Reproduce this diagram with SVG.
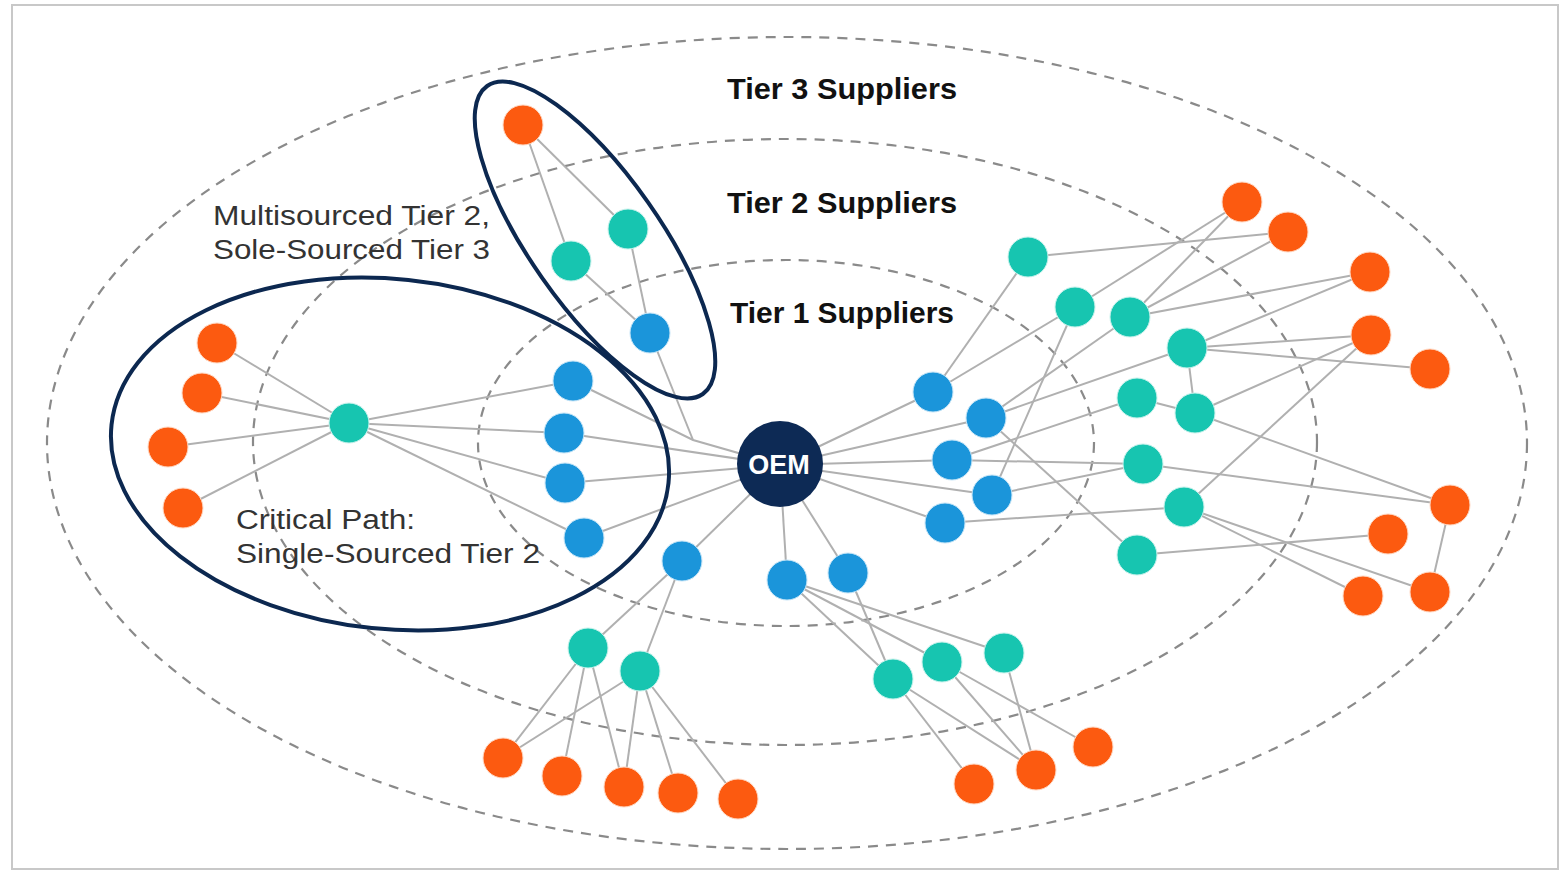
<svg xmlns="http://www.w3.org/2000/svg" width="1562" height="872" viewBox="0 0 1562 872">
<style>
.ring{fill:none;stroke:#8a8a8a;stroke-width:2.2;stroke-dasharray:10 8}
.hl{fill:none;stroke:#0c2850;stroke-width:4}
.e{stroke:#b0b0b0;stroke-width:2;fill:none}
.o{fill:#fc5a10;stroke:#ffd9c4;stroke-width:1}
.t{fill:#17c5b0;stroke:#c8f2ec;stroke-width:1}
.b{fill:#1b95da;stroke:#c6e5f7;stroke-width:1}
.tier{font-family:"Liberation Sans",Arial,sans-serif;font-weight:bold;font-size:30px;fill:#111}
.note{font-family:"Liberation Sans",Arial,sans-serif;font-size:27px;fill:#333}
</style>
<rect x="0" y="0" width="1562" height="872" fill="#ffffff"/>
<rect x="12" y="5" width="1546" height="864" fill="#ffffff" stroke="#c8c8c8" stroke-width="2"/>

<g id="rings">
<ellipse class="ring" cx="787" cy="443" rx="740" ry="406"/>
<ellipse class="ring" cx="785" cy="442" rx="532" ry="303"/>
<ellipse class="ring" cx="786" cy="443" rx="308" ry="183"/>
</g>

<g id="connectors">
<!-- OEM to tier 1 -->
<polyline class="e" points="573,381 693,440 780,465"/>
<line class="e" x1="650" y1="333" x2="693" y2="440"/>
<line class="e" x1="564" y1="433" x2="780" y2="465"/>
<line class="e" x1="565" y1="483" x2="780" y2="465"/>
<line class="e" x1="584" y1="538" x2="780" y2="465"/>
<line class="e" x1="682" y1="561" x2="780" y2="465"/>
<line class="e" x1="787" y1="580" x2="780" y2="465"/>
<line class="e" x1="848" y1="573" x2="780" y2="465"/>
<line class="e" x1="933" y1="392" x2="780" y2="465"/>
<line class="e" x1="986" y1="418" x2="780" y2="465"/>
<line class="e" x1="952" y1="460" x2="780" y2="465"/>
<line class="e" x1="992" y1="495" x2="780" y2="465"/>
<line class="e" x1="945" y1="523" x2="780" y2="465"/>
<!-- left critical path -->
<line class="e" x1="349" y1="423" x2="573" y2="381"/>
<line class="e" x1="349" y1="423" x2="564" y2="433"/>
<line class="e" x1="349" y1="423" x2="565" y2="483"/>
<line class="e" x1="349" y1="423" x2="584" y2="538"/>
<line class="e" x1="349" y1="423" x2="217" y2="343"/>
<line class="e" x1="349" y1="423" x2="202" y2="393"/>
<line class="e" x1="349" y1="423" x2="168" y2="447"/>
<line class="e" x1="349" y1="423" x2="183" y2="508"/>
<!-- top group -->
<line class="e" x1="523" y1="125" x2="628" y2="229"/>
<line class="e" x1="523" y1="125" x2="571" y2="261"/>
<line class="e" x1="628" y1="229" x2="650" y2="333"/>
<line class="e" x1="571" y1="261" x2="650" y2="333"/>
<!-- bottom-left group -->
<line class="e" x1="682" y1="561" x2="588" y2="648"/>
<line class="e" x1="682" y1="561" x2="640" y2="671"/>
<line class="e" x1="588" y1="648" x2="503" y2="758"/>
<line class="e" x1="588" y1="648" x2="562" y2="776"/>
<line class="e" x1="588" y1="648" x2="624" y2="787"/>
<line class="e" x1="640" y1="671" x2="503" y2="758"/>
<line class="e" x1="640" y1="671" x2="624" y2="787"/>
<line class="e" x1="640" y1="671" x2="678" y2="793"/>
<line class="e" x1="640" y1="671" x2="738" y2="799"/>
<!-- bottom-middle group -->
<line class="e" x1="787" y1="580" x2="893" y2="679"/>
<line class="e" x1="787" y1="580" x2="942" y2="662"/>
<line class="e" x1="787" y1="580" x2="1004" y2="653"/>
<line class="e" x1="848" y1="573" x2="893" y2="679"/>
<line class="e" x1="893" y1="679" x2="974" y2="784"/>
<line class="e" x1="893" y1="679" x2="1036" y2="770"/>
<line class="e" x1="942" y1="662" x2="1036" y2="770"/>
<line class="e" x1="942" y1="662" x2="1093" y2="747"/>
<line class="e" x1="1004" y1="653" x2="1036" y2="770"/>
<!-- right group -->
<line class="e" x1="933" y1="392" x2="1028" y2="257"/>
<line class="e" x1="933" y1="392" x2="1075" y2="307"/>
<line class="e" x1="986" y1="418" x2="1130" y2="317"/>
<line class="e" x1="986" y1="418" x2="1187" y2="348"/>
<line class="e" x1="986" y1="418" x2="1137" y2="555"/>
<line class="e" x1="952" y1="460" x2="1137" y2="398"/>
<line class="e" x1="952" y1="460" x2="1143" y2="464"/>
<line class="e" x1="992" y1="495" x2="1075" y2="307"/>
<line class="e" x1="992" y1="495" x2="1143" y2="464"/>
<line class="e" x1="945" y1="523" x2="1184" y2="507"/>
<line class="e" x1="1028" y1="257" x2="1288" y2="232"/>
<line class="e" x1="1075" y1="307" x2="1242" y2="202"/>
<line class="e" x1="1130" y1="317" x2="1242" y2="202"/>
<line class="e" x1="1130" y1="317" x2="1288" y2="232"/>
<line class="e" x1="1130" y1="317" x2="1370" y2="272"/>
<line class="e" x1="1187" y1="348" x2="1370" y2="272"/>
<line class="e" x1="1187" y1="348" x2="1371" y2="335"/>
<line class="e" x1="1187" y1="348" x2="1430" y2="369"/>
<line class="e" x1="1187" y1="348" x2="1195" y2="413"/>
<line class="e" x1="1137" y1="398" x2="1195" y2="413"/>
<line class="e" x1="1195" y1="413" x2="1371" y2="335"/>
<line class="e" x1="1195" y1="413" x2="1450" y2="505"/>
<line class="e" x1="1143" y1="464" x2="1450" y2="505"/>
<line class="e" x1="1184" y1="507" x2="1371" y2="335"/>
<line class="e" x1="1184" y1="507" x2="1363" y2="596"/>
<line class="e" x1="1184" y1="507" x2="1430" y2="592"/>
<line class="e" x1="1137" y1="555" x2="1388" y2="534"/>
<line class="e" x1="1450" y1="505" x2="1430" y2="592"/>
</g>

<g id="highlights">
<ellipse class="hl" cx="390" cy="454" rx="280" ry="175" transform="rotate(6 390 454)"/>
<ellipse class="hl" cx="595" cy="240" rx="188" ry="65" transform="rotate(55 595 240)"/>
</g>

<g id="tier3-nodes">
<circle id="o1" class="o" cx="217" cy="343" r="20"/>
<circle id="o2" class="o" cx="202" cy="393" r="20"/>
<circle id="o3" class="o" cx="168" cy="447" r="20"/>
<circle id="o4" class="o" cx="183" cy="508" r="20"/>
<circle id="o5" class="o" cx="523" cy="125" r="20"/>
<circle id="o6" class="o" cx="503" cy="758" r="20"/>
<circle id="o7" class="o" cx="562" cy="776" r="20"/>
<circle id="o8" class="o" cx="624" cy="787" r="20"/>
<circle id="o9" class="o" cx="678" cy="793" r="20"/>
<circle id="o10" class="o" cx="738" cy="799" r="20"/>
<circle id="o11" class="o" cx="974" cy="784" r="20"/>
<circle id="o12" class="o" cx="1036" cy="770" r="20"/>
<circle id="o13" class="o" cx="1093" cy="747" r="20"/>
<circle id="o14" class="o" cx="1242" cy="202" r="20"/>
<circle id="o15" class="o" cx="1288" cy="232" r="20"/>
<circle id="o16" class="o" cx="1370" cy="272" r="20"/>
<circle id="o17" class="o" cx="1371" cy="335" r="20"/>
<circle id="o18" class="o" cx="1430" cy="369" r="20"/>
<circle id="o19" class="o" cx="1450" cy="505" r="20"/>
<circle id="o20" class="o" cx="1388" cy="534" r="20"/>
<circle id="o21" class="o" cx="1363" cy="596" r="20"/>
<circle id="o22" class="o" cx="1430" cy="592" r="20"/>
</g>

<g id="tier2-nodes">
<circle id="t1" class="t" cx="349" cy="423" r="20"/>
<circle id="t2" class="t" cx="628" cy="229" r="20"/>
<circle id="t3" class="t" cx="571" cy="261" r="20"/>
<circle id="t4" class="t" cx="588" cy="648" r="20"/>
<circle id="t5" class="t" cx="640" cy="671" r="20"/>
<circle id="t6" class="t" cx="893" cy="679" r="20"/>
<circle id="t7" class="t" cx="942" cy="662" r="20"/>
<circle id="t8" class="t" cx="1004" cy="653" r="20"/>
<circle id="t9" class="t" cx="1028" cy="257" r="20"/>
<circle id="t10" class="t" cx="1075" cy="307" r="20"/>
<circle id="t11" class="t" cx="1130" cy="317" r="20"/>
<circle id="t12" class="t" cx="1187" cy="348" r="20"/>
<circle id="t13" class="t" cx="1137" cy="398" r="20"/>
<circle id="t14" class="t" cx="1195" cy="413" r="20"/>
<circle id="t15" class="t" cx="1143" cy="464" r="20"/>
<circle id="t16" class="t" cx="1184" cy="507" r="20"/>
<circle id="t17" class="t" cx="1137" cy="555" r="20"/>
</g>

<g id="tier1-nodes">
<circle id="b1" class="b" cx="573" cy="381" r="20"/>
<circle id="b2" class="b" cx="564" cy="433" r="20"/>
<circle id="b3" class="b" cx="565" cy="483" r="20"/>
<circle id="b4" class="b" cx="584" cy="538" r="20"/>
<circle id="b5" class="b" cx="650" cy="333" r="20"/>
<circle id="b6" class="b" cx="682" cy="561" r="20"/>
<circle id="b7" class="b" cx="787" cy="580" r="20"/>
<circle id="b8" class="b" cx="848" cy="573" r="20"/>
<circle id="b9" class="b" cx="933" cy="392" r="20"/>
<circle id="b10" class="b" cx="986" cy="418" r="20"/>
<circle id="b11" class="b" cx="952" cy="460" r="20"/>
<circle id="b12" class="b" cx="992" cy="495" r="20"/>
<circle id="b13" class="b" cx="945" cy="523" r="20"/>
</g>

<g id="oem">
<circle cx="780" cy="464" r="43" fill="#0d2a55"/>
<text x="779" y="474" text-anchor="middle" font-family="'Liberation Sans',Arial,sans-serif" font-weight="bold" font-size="27" fill="#ffffff">OEM</text>
</g>

<g id="labels">
<text class="tier" x="727" y="99" textLength="230" lengthAdjust="spacingAndGlyphs">Tier 3 Suppliers</text>
<text class="tier" x="727" y="213" textLength="230" lengthAdjust="spacingAndGlyphs">Tier 2 Suppliers</text>
<text class="tier" x="730" y="323" textLength="224" lengthAdjust="spacingAndGlyphs">Tier 1 Suppliers</text>
<text class="note" x="213" y="225" textLength="277" lengthAdjust="spacingAndGlyphs">Multisourced Tier 2,</text>
<text class="note" x="213" y="259" textLength="277" lengthAdjust="spacingAndGlyphs">Sole-Sourced Tier 3</text>
<text class="note" x="236" y="529" textLength="179" lengthAdjust="spacingAndGlyphs">Critical Path:</text>
<text class="note" x="236" y="563" textLength="304" lengthAdjust="spacingAndGlyphs">Single-Sourced Tier 2</text>
</g>
</svg>
